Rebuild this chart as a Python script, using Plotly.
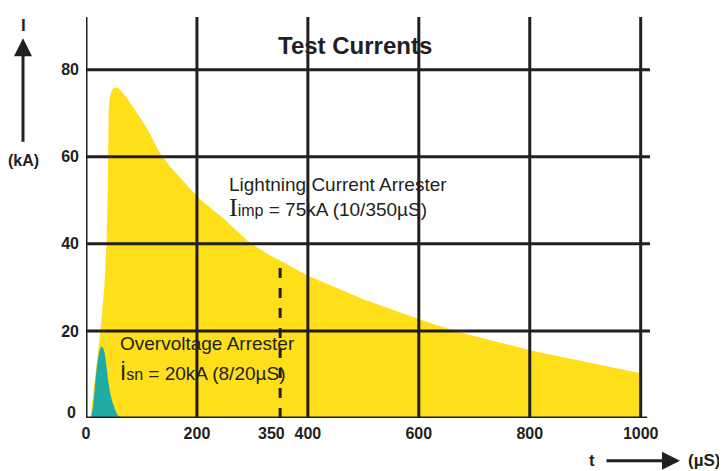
import numpy as np
import plotly.graph_objects as go

# ---- data ----
lightning_t = [8, 17, 26, 33, 37, 39, 40, 40, 41, 43, 46, 50, 55, 60, 67, 76, 85, 97, 109,
               121, 133, 150, 170, 205, 250, 293, 332, 350, 400, 500, 602, 662, 802, 1000, 1000]
lightning_i = [0, 10, 20, 30, 40, 50, 60, 68, 71, 73.6, 75.1, 75.8, 75.9, 75.6, 74.5, 73.1,
               71.4, 69.2, 66.8, 63.8, 60.9, 58, 55.1, 50.3, 45.6, 40.5, 37.3, 36.2, 32.7,
               27.3, 22.6, 20.1, 15.5, 10.3, 0]

overvolt_t = [9, 13, 16, 19, 22, 25, 28, 31, 34, 37, 40, 44, 49, 54, 58, 64]
overvolt_i = [0, 3, 7, 11, 13.9, 15.8, 16.5, 16, 14.7, 11.8, 8.6, 5.5, 3.2, 1.5, 0.5, 0]

x_ticks = [0, 200, 400, 600, 800, 1000]
x_grid = [200, 400, 600, 800, 1000]
y_ticks = [20, 40, 60, 80]
y_grid = [20, 40, 60, 80]
y_zero = 0
marker_t = 350

DARK = "#231f20"
YELLOW = "#FFDE1A"
TEAL = "#20ABA6"
FONT = "Liberation Sans"

fig = go.Figure()
fig.add_trace(go.Scatter(x=lightning_t, y=lightning_i, fill="toself", mode="lines",
                         line=dict(width=0), fillcolor=YELLOW, hoverinfo="skip"))
fig.add_trace(go.Scatter(x=overvolt_t, y=overvolt_i, fill="toself", mode="lines",
                         line=dict(width=0, shape="spline", smoothing=0.6),
                         fillcolor=TEAL, hoverinfo="skip"))
marker_i = float(np.interp(marker_t, lightning_t[:-1], lightning_i[:-1]))
fig.add_trace(go.Scatter(x=[marker_t, marker_t], y=[0, marker_i], mode="lines",
                         line=dict(color=DARK, width=3, dash="10px,10px"), hoverinfo="skip"))

shapes = []
for gx in x_grid:
    shapes.append(dict(type="line", xref="x", yref="paper", x0=gx, x1=gx, y0=0, y1=1,
                       line=dict(color=DARK, width=3), layer="above"))
for gy in y_grid:
    shapes.append(dict(type="line", xref="paper", yref="y", x0=0, x1=1, y0=gy, y1=gy,
                       line=dict(color=DARK, width=3), layer="above"))
shapes.append(dict(type="line", xref="x", yref="paper", x0=0, x1=0, y0=0, y1=1,
                   line=dict(color=DARK, width=3), layer="above"))
shapes.append(dict(type="line", xref="paper", yref="y", x0=0, x1=0.995, y0=0, y1=0,
                   line=dict(color=DARK, width=3), layer="above"))

tickfont = dict(family=FONT, size=16, color=DARK, weight="bold")
txt = dict(family=FONT, size=19, color=DARK)

annotations = [
    dict(xref="x", yref="y", x=485, y=85.6, text="<b>Test Currents</b>", showarrow=False,
         font=dict(family=FONT, size=24, color=DARK), xanchor="center", yanchor="middle"),
    dict(xref="x", yref="y", x=254, y=53.6, text="Lightning Current Arrester",
         showarrow=False, font=txt, xanchor="left", yanchor="middle"),
    dict(xref="x", yref="y", x=254, y=48.4,
         text='<span style="font-family:Liberation Serif;font-size:26px">I</span>'
              '<span style="font-size:16px">imp</span> = 75kA (10/350µS)',
         showarrow=False, font=txt, xanchor="left", yanchor="middle"),
    dict(xref="x", yref="y", x=57, y=17.2, text="Overvoltage Arrester",
         showarrow=False, font=txt, xanchor="left", yanchor="middle"),
    dict(xref="x", yref="y", x=57, y=10.4,
         text='<span style="font-size:22px">İ</span>'
              '<span style="font-size:16px">sn</span> = 20kA (8/20µS)',
         showarrow=False, font=txt, xanchor="left", yanchor="middle"),
    # marker tick label (offset a little so it does not collide with "400")
    dict(xref="x", yref="paper", x=marker_t, y=-0.0385, text="<b>%d</b>" % marker_t,
         showarrow=False, font=tickfont, xanchor="center", yanchor="middle", xshift=-9),
    # y zero label, sits slightly above the baseline as in the reference
    dict(xref="paper", yref="y", x=0, y=y_zero, text="<b>%d</b>" % y_zero,
         showarrow=False, font=tickfont, xanchor="right", yanchor="middle",
         xshift=-8, yshift=6),
    # y axis label and arrow
    dict(xref="paper", yref="paper", x=-0.1100, y=0.979, text="<b>I</b>", showarrow=False,
         font=dict(family=FONT, size=17, color=DARK), xanchor="center", yanchor="middle"),
    dict(xref="paper", yref="paper", x=-0.1117, y=(417.3 - 38) / 400.6, text="",
         showarrow=True, axref="pixel", ayref="pixel", ax=0, ay=105,
         arrowhead=2, arrowsize=1.2, arrowwidth=3, arrowcolor=DARK),
    dict(xref="paper", yref="paper", x=-0.1117, y=0.642, text="<b>(kA)</b>", showarrow=False,
         font=dict(family=FONT, size=16, color=DARK), xanchor="center", yanchor="middle"),
    # x axis label and arrow
    dict(xref="paper", yref="paper", x=0.897, y=-0.1066, text="<b>t</b>", showarrow=False,
         font=dict(family=FONT, size=17, color=DARK), xanchor="center", yanchor="middle"),
    dict(xref="paper", yref="paper", x=(680 - 86) / 564, y=-0.1066, text="",
         showarrow=True, axref="pixel", ayref="pixel", ax=-75, ay=0,
         arrowhead=2, arrowsize=1.2, arrowwidth=3, arrowcolor=DARK),
    dict(xref="paper", yref="paper", x=(704 - 86) / 564, y=-0.1066, text="<b>(µS)</b>",
         showarrow=False, font=dict(family=FONT, size=17, color=DARK),
         xanchor="center", yanchor="middle"),
]

fig.update_layout(
    width=727, height=471,
    margin=dict(l=78, r=85, t=9, b=61.4),
    paper_bgcolor="white", plot_bgcolor="white",
    showlegend=False,
    shapes=shapes, annotations=annotations,
    xaxis=dict(range=[0, 1016.8], tickvals=x_ticks, ticktext=[str(v) for v in x_ticks],
               showgrid=False, zeroline=False, showline=False, ticks="", tickangle=0,
               tickfont=tickfont, ticklabelstandoff=4, fixedrange=True),
    yaxis=dict(range=[0, 92.1], tickvals=y_ticks, ticktext=[str(v) for v in y_ticks],
               showgrid=False, zeroline=False, showline=False, ticks="",
               tickfont=tickfont, ticklabelstandoff=6, fixedrange=True),
)

fig.write_html("out.html")
